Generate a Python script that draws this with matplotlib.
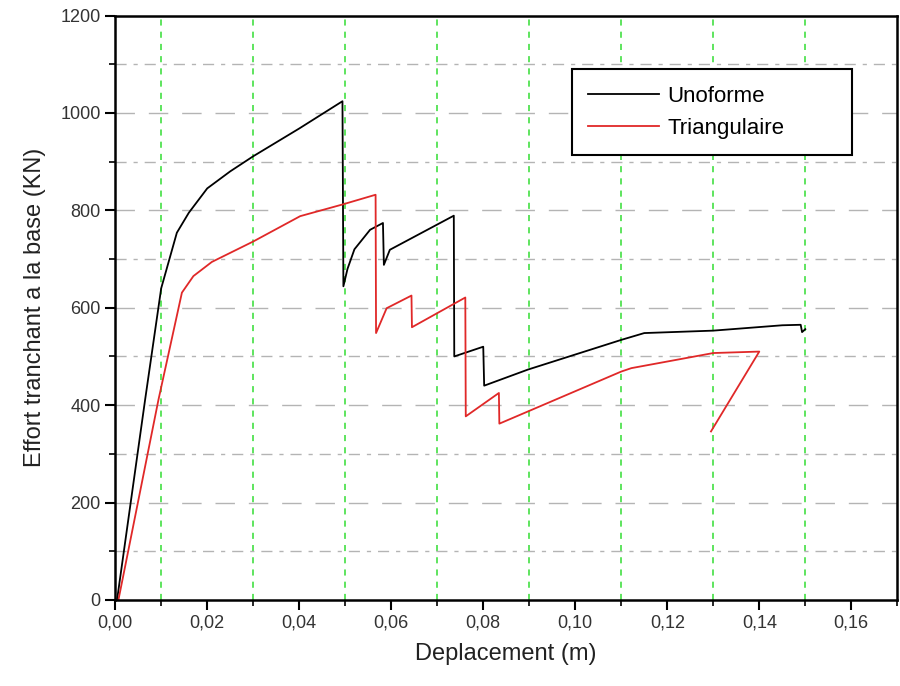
import matplotlib.pyplot as plt
from matplotlib.ticker import MultipleLocator, FuncFormatter

plt.rcParams['font.family'] = ['Liberation Sans', 'DejaVu Sans']

# donnees
uno_x = [0.0004, 0.0065, 0.010, 0.0134, 0.016, 0.020, 0.025, 0.030, 0.040, 0.0494,
         0.0496, 0.0505, 0.052, 0.0554, 0.0582, 0.0584, 0.0597, 0.0736,
         0.0737, 0.080, 0.0802, 0.0897, 0.110, 0.115, 0.130, 0.145, 0.149,
         0.1493, 0.150]
uno_y = [0, 411, 640, 754, 795, 845, 880, 911, 968, 1024,
         644, 680, 720, 760, 774, 688, 719, 789,
         500, 520, 440, 473, 534, 548, 553, 564, 565,
         550, 556]

tri_x = [0.0007, 0.0094, 0.0145, 0.017, 0.021, 0.030, 0.0402, 0.0494, 0.0566,
         0.0567, 0.059, 0.0644, 0.0645, 0.0761, 0.0762, 0.0834, 0.0835,
         0.0897, 0.110, 0.1122, 0.130, 0.140, 0.1295]
tri_y = [0, 411, 631, 665, 694, 736, 788, 812, 832,
         548, 599, 625, 560, 621, 377, 425, 362,
         387, 469, 476, 507, 510, 346]

fig = plt.figure(figsize=(9, 6.86), dpi=100)
ax = fig.add_axes([0.128, 0.1254, 0.869, 0.852])

ax.plot(uno_x, uno_y, color='black', lw=1.3, label='Unoforme')
ax.plot(tri_x, tri_y, color='#e02828', lw=1.3, label='Triangulaire')

ax.set_xlim(0, 0.17)
ax.set_ylim(0, 1200)
ax.xaxis.set_major_locator(MultipleLocator(0.02))
ax.xaxis.set_minor_locator(MultipleLocator(0.01))
ax.yaxis.set_major_locator(MultipleLocator(200))
ax.yaxis.set_minor_locator(MultipleLocator(100))
ax.xaxis.set_major_formatter(FuncFormatter(lambda v, p: ('%.2f' % v).replace('.', ',')))

# grilles
for v in [0.01, 0.03, 0.05, 0.07, 0.09, 0.11, 0.13, 0.15]:
    ax.axvline(v, color='#33dd33', lw=1.1, ls=(0, (4, 4)), zorder=0)
for v in range(100, 1200, 200):
    ax.axhline(v, color='#b4b4b4', lw=1.0, ls=(0, (8, 5, 3, 5)), zorder=0)
for v in range(200, 1200, 200):
    ax.axhline(v, color='#b4b4b4', lw=1.0, ls=(0, (14, 10)), zorder=0)

ax.tick_params(which='major', direction='out', length=7, width=1.5, labelsize=13,
               labelcolor='#333333')
ax.tick_params(which='minor', direction='out', length=4, width=1.2)
for s in ax.spines.values():
    s.set_linewidth(1.8)

ax.set_xlabel('Deplacement (m)', fontsize=17, labelpad=8, color='#222222')
ax.set_ylabel('Effort tranchant a la base (KN)', fontsize=17, labelpad=10, color='#222222')

# legende: cadre de 572 a 852 px en x, de 69 a 155 px en y
leg = ax.legend(loc='upper left',
                bbox_to_anchor=(571.7 / 900, 1 - 155 / 686, 280 / 900, 86 / 686),
                bbox_transform=fig.transFigure, mode='expand', fontsize=16,
                fancybox=False, edgecolor='black', handlelength=3.2,
                handletextpad=0.35, borderpad=0.75, borderaxespad=0,
                labelspacing=0.5, framealpha=1)
leg.get_frame().set_linewidth(1.5)

fig.savefig('out.png', dpi=100)
